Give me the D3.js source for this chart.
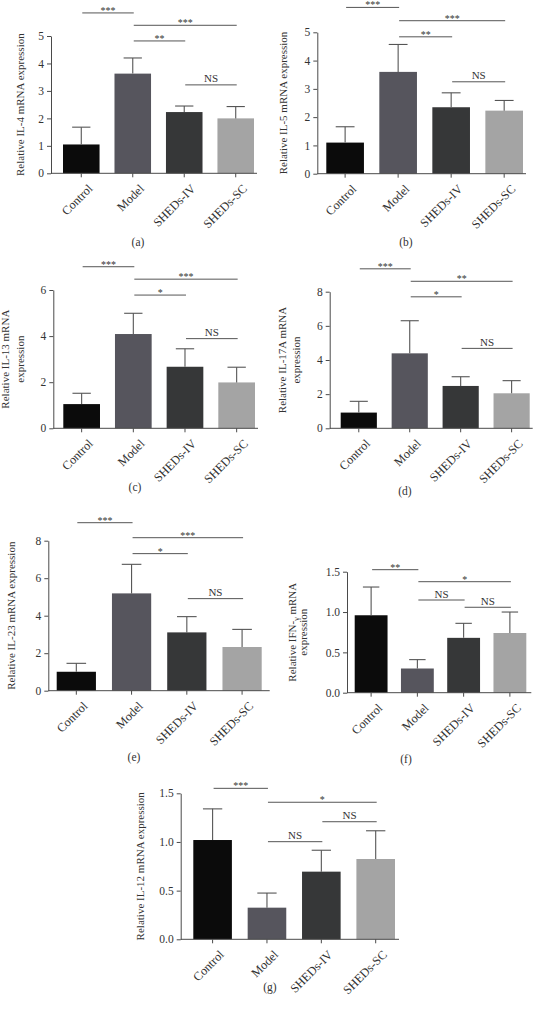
<!DOCTYPE html>
<html>
<head>
<meta charset="utf-8">
<script src="https://cdn.jsdelivr.net/npm/d3@7"></script>
<style>
html,body{margin:0;padding:0;background:#fff;}
svg{display:block;}
text{font-family:"Liberation Serif","Times New Roman",serif;fill:#333;}
</style>
</head>
<body>
<svg id="chart" width="538" height="1011"></svg>
<script>
// ---------- data ----------
const categories = ["Control", "Model", "SHEDs-IV", "SHEDs-SC"];
const barColors = ["#0b0b0b", "#56555d", "#363738", "#a4a4a4"];

const il4Mean  = [1.05, 3.63, 2.23, 2.00];
const il4Sd    = [0.63, 0.57, 0.22, 0.43];
const il5Mean  = [1.10, 3.60, 2.35, 2.23];
const il5Sd    = [0.56, 0.97, 0.51, 0.36];
const il13Mean = [1.05, 4.09, 2.67, 1.99];
const il13Sd   = [0.47, 0.90, 0.78, 0.66];
const il17Mean = [0.92, 4.39, 2.48, 2.05];
const il17Sd   = [0.66, 1.91, 0.54, 0.74];
const il23Mean = [1.01, 5.19, 3.11, 2.33];
const il23Sd   = [0.45, 1.55, 0.84, 0.94];
const ifngMean = [0.96, 0.30, 0.68, 0.74];
const ifngSd   = [0.35, 0.11, 0.18, 0.26];
const il12Mean = [1.02, 0.325, 0.695, 0.825];
const il12Sd   = [0.32, 0.15, 0.22, 0.29];

const ticks5   = [0, 1, 2, 3, 4, 5];
const ticks6   = [0, 2, 4, 6];
const ticks8   = [0, 2, 4, 6, 8];
const ticks15  = [0, 0.5, 1.0, 1.5];

// significance brackets: [from, to, label, level (data units)]
const il4Sig  = [[0,1,"***",5.84],[1,3,"***",5.39],[1,2,"**",4.82],[2,3,"NS",3.22]];
const il5Sig  = [[0,1,"***",5.88],[1,3,"***",5.41],[1,2,"**",4.84],[2,3,"NS",3.25]];
const il13Sig = [[0,1,"***",7.01],[1,3,"***",6.47],[1,2,"*",5.78],[2,3,"NS",3.89]];
const il17Sig = [[0,1,"***",9.34],[1,3,"**",8.61],[1,2,"*",7.70],[2,3,"NS",4.68]];
const il23Sig = [[0,1,"***",8.96],[1,3,"***",8.16],[1,2,"*",7.31],[2,3,"NS",4.91]];
const ifngSig = [[0,1,"**",1.525],[1,3,"*",1.376],[1,2,"NS",1.149],[2,3,"NS",1.059]];
const il12Sig = [[0,1,"***",1.551],[1,3,"*",1.408],[1,2,"NS",1.003],[2,3,"NS",1.208]];

// ---------- layout ----------
const panels = [
  {mean:il4Mean, sd:il4Sd, sig:il4Sig, ticks:ticks5, fmt:"d",
   ax:51, bx0:63, bx1:254, ext:3, y0:173.3, yT:36,
   label:[["Relative IL-4 mRNA expression"]], lx:[20], cap:"(a)", capX:138, capY:242},
  {mean:il5Mean, sd:il5Sd, sig:il5Sig, ticks:ticks5, fmt:"d",
   ax:317.3, bx0:326.3, bx1:523, ext:3, y0:173.7, yT:32.3,
   label:[["Relative IL-5 mRNA expression"]], lx:[283], cap:"(b)", capX:406, capY:242},
  {mean:il13Mean, sd:il13Sd, sig:il13Sig, ticks:ticks6, fmt:"d",
   ax:53.3, bx0:63.3, bx1:255, ext:3, y0:428.3, yT:290,
   label:[["Relative IL-13 mRNA"],["expression"]], lx:[5.5,20], cap:"(c)", capX:135, capY:487},
  {mean:il17Mean, sd:il17Sd, sig:il17Sig, ticks:ticks8, fmt:"d",
   ax:329.7, bx0:340.7, bx1:529.7, ext:3, y0:428.3, yT:291.7,
   label:[["Relative IL-17A mRNA"],["expression"]], lx:[282,296.5], cap:"(d)", capX:405, capY:491},
  {mean:il23Mean, sd:il23Sd, sig:il23Sig, ticks:ticks8, fmt:"d",
   ax:48.3, bx0:56.7, bx1:261.7, ext:8, y0:690.7, yT:540.7,
   label:[["Relative IL-23 mRNA expression"]], lx:[11], cap:"(e)", capX:134, capY:757},
  {mean:ifngMean, sd:ifngSd, sig:ifngSig, ticks:ticks15, fmt:".1f",
   ax:347, bx0:354.7, bx1:526.3, ext:5, y0:692.7, yT:571.7,
   label:[["Relative IFN-", "γ", " mRNA"],["expression"]], lx:[291.7,303], cap:"(f)", capX:406, capY:759},
  {mean:il12Mean, sd:il12Sd, sig:il12Sig, ticks:ticks15, fmt:".1f",
   ax:180.7, bx0:193.3, bx1:395, ext:4, y0:939.3, yT:793.3,
   label:[["Relative IL-12 mRNA expression"]], lx:[140], cap:"(g)", capX:270, capY:987}
];

const svg = d3.select("#chart");
const axisColor = "#4a4a4a";

panels.forEach(p => {
  const g = svg.append("g");
  const ymax = p.ticks[p.ticks.length - 1];
  const y = d3.scaleLinear().domain([0, ymax]).range([p.y0, p.yT]);
  const x = d3.scaleBand().domain(categories).range([p.bx0, p.bx1])
              .paddingInner(0.29).paddingOuter(0);
  const bw = x.bandwidth();
  const cx = c => x(c) + bw / 2;

  // bars
  g.selectAll("rect.bar").data(categories).join("rect")
    .attr("x", d => x(d)).attr("width", bw)
    .attr("y", (d, i) => y(p.mean[i]))
    .attr("height", (d, i) => p.y0 - y(p.mean[i]))
    .attr("fill", (d, i) => barColors[i]);

  // error bars (upper only)
  categories.forEach((c, i) => {
    const top = y(p.mean[i] + p.sd[i]);
    g.append("line").attr("x1", cx(c)).attr("x2", cx(c))
      .attr("y1", y(p.mean[i])).attr("y2", top)
      .attr("stroke", "#555").attr("stroke-width", 1.1);
    g.append("line").attr("x1", cx(c) - bw / 4).attr("x2", cx(c) + bw / 4)
      .attr("y1", top).attr("y2", top)
      .attr("stroke", "#555").attr("stroke-width", 1.1);
  });

  // y axis
  const yAxis = d3.axisLeft(y).tickValues(p.ticks)
    .tickFormat(d3.format(p.fmt)).tickSize(4).tickSizeOuter(0).tickPadding(3);
  const ya = g.append("g").attr("transform", `translate(${p.ax},0)`).call(yAxis);
  ya.select(".domain").attr("stroke", axisColor);
  ya.selectAll(".tick line").attr("stroke", axisColor);
  ya.selectAll(".tick text").attr("font-size", 11.5)
    .style("font-family", '"Liberation Serif","Times New Roman",serif').attr("fill", "#333");

  // x axis
  g.append("line").attr("x1", p.ax).attr("x2", p.bx1 + p.ext)
    .attr("y1", p.y0).attr("y2", p.y0).attr("stroke", axisColor).attr("stroke-width", 1);
  categories.forEach(c => {
    g.append("line").attr("x1", cx(c)).attr("x2", cx(c))
      .attr("y1", p.y0).attr("y2", p.y0 + 4).attr("stroke", axisColor);
    g.append("text")
      .attr("transform", `translate(${cx(c) + 9},${p.y0 + 13}) rotate(-45)`)
      .attr("text-anchor", "end").attr("dy", "0.35em")
      .attr("font-size", 12.3).text(c);
  });

  // y label
  p.label.forEach((parts, li) => {
    const t = g.append("text")
      .attr("transform", `translate(${p.lx[li]},${(p.y0 + p.yT) / 2}) rotate(-90)`)
      .attr("text-anchor", "middle").attr("dy", "0.35em").attr("font-size", 11);
    if (parts.length === 1) {
      t.text(parts[0]);
    } else {
      t.append("tspan").text(parts[0]);
      t.append("tspan").attr("dy", 3).attr("font-size", 8).text(parts[1]);
      t.append("tspan").attr("dy", -3).text(parts[2]);
    }
  });

  // significance brackets
  p.sig.forEach(s => {
    const ly = y(s[3]);
    const xa = cx(categories[s[0]]), xb = cx(categories[s[1]]);
    g.append("line").attr("x1", xa + 1).attr("x2", xb + 1)
      .attr("y1", ly).attr("y2", ly).attr("stroke", "#555").attr("stroke-width", 1);
    const isNS = s[2] === "NS";
    g.append("text").attr("x", (xa + xb) / 2 + 1).attr("y", ly + (isNS ? -2.5 : 1))
      .attr("text-anchor", "middle")
      .attr("font-size", isNS ? 11 : 10)
      .attr("fill", isNS ? "#333" : "#777")
      .text(s[2]);
  });

  // caption
  g.append("text").attr("x", p.capX).attr("y", p.capY).attr("dy", "0.35em")
    .attr("text-anchor", "middle").attr("font-size", 11.5).text(p.cap);
});
</script>
</body>
</html>
